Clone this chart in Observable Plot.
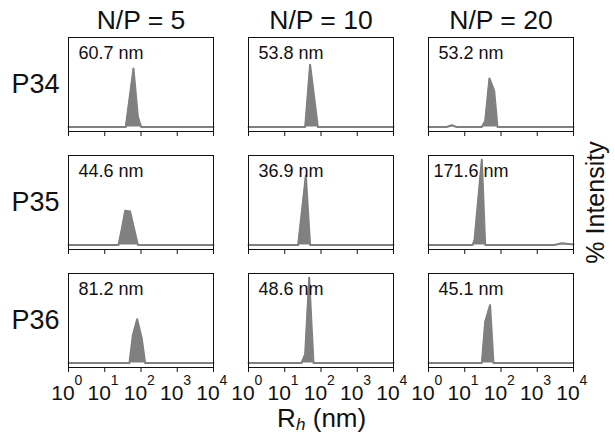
<!DOCTYPE html>
<html>
<head>
<meta charset="utf-8">
<script src="https://cdn.jsdelivr.net/npm/d3@7"></script>
<script src="https://cdn.jsdelivr.net/npm/@observablehq/plot@0.6"></script>
<style>
  html, body { margin: 0; padding: 0; background: white; }
</style>
</head>
<body>
<div id="chart"></div>
<script>
// Column facets (N/P ratio) and row facets (polymer)
const npRatios = [5, 10, 20];
const polymers = ["P34", "P35", "P36"];

// Hydrodynamic radius annotations, per [polymer][np]
const sizeLabels = [
  ["60.7 nm", "53.8 nm", "53.2 nm"],
  ["44.6 nm", "36.9 nm", "171.6 nm"],
  ["81.2 nm", "48.6 nm", "45.1 nm"]
];

// Size distributions: [R_h (nm), % intensity]
const p34_np5  = [[1, 0], [38, 0], [62, 19.6], [82, 3.4], [101, 0], [10000, 0]];
const p34_np10 = [[1, 0], [36.6, 0], [50, 20.9], [82, 0], [10000, 0]];
const p34_np20 = [[1, 0], [3.2, 0], [4.4, 0.6], [6, 0], [29.6, 0], [36.6, 2.0], [48, 16.3], [65, 12.1], [80, 0], [10000, 0]];
const p35_np5  = [[1, 0], [24, 0], [29.6, 5.4], [36.6, 11.5], [50, 11.2], [82, 0], [10000, 0]];
const p35_np10 = [[1, 0], [23.4, 0], [38.2, 23.3], [50, 0], [10000, 0]];
const p35_np20 = [[1, 0], [16.5, 0], [18.6, 1.7], [29.6, 28.6], [36.6, 0], [3000, 0], [4770, 0.6], [10000, 0.2]];
const p36_np5  = [[1, 0], [48, 0], [59.6, 9.3], [78.4, 14.7], [105, 8.2], [130, 0], [10000, 0]];
const p36_np10 = [[1, 0], [29, 0], [36.6, 3.0], [47.2, 28.6], [62, 0], [10000, 0]];
const p36_np20 = [[1, 0], [29.6, 0], [36.6, 13.8], [50, 19.4], [62, 0], [10000, 0]];

const series = [
  [p34_np5, p34_np10, p34_np20],
  [p35_np5, p35_np10, p35_np20],
  [p36_np5, p36_np10, p36_np20]
];

// x-axis ticks
const xTickValues = [1, 10, 100, 1000, 10000];
const xTickBase = "10";
const xTickExponents = ["0", "1", "2", "3", "4"];

// Axis titles
const yTitle = "% Intensity";
const xTitleMain = "R";
const xTitleSub = "h";
const xTitleUnit = " (nm)";

// Build tidy tables
const rows = [];
const labels = [];
polymers.forEach((p, i) => {
  npRatios.forEach((np, j) => {
    series[i][j].forEach(([r, v]) => rows.push({polymer: p, np, r, v}));
    labels.push({polymer: p, np, label: sizeLabels[i][j]});
  });
});
const ticks = xTickValues.map((v, k) => ({v, base: xTickBase, exp: xTickExponents[k]}));

const ink = "#111";
const gray = "#808080";

const chart = Plot.plot({
  width: 615,
  height: 434,
  marginTop: 37,
  marginBottom: 67,
  marginLeft: 67,
  marginRight: 42,
  style: {fontFamily: "'Liberation Sans', Arial, sans-serif", color: ink, background: "white"},
  x: {type: "log", domain: [1, 10000]},
  y: {domain: [-1.5, 30], axis: null},
  fx: {domain: npRatios, paddingInner: 0.197, paddingOuter: 0},
  fy: {domain: polymers, paddingInner: 0.205, paddingOuter: 0},
  marks: [
    Plot.areaY(rows, {x: "r", y: "v", fx: "np", fy: "polymer", fill: gray, curve: "linear"}),
    Plot.lineY(rows, {x: "r", y: "v", fx: "np", fy: "polymer", stroke: gray, strokeWidth: 2, strokeLinejoin: "round"}),
    Plot.frame({stroke: ink, strokeWidth: 1}),
    Plot.axisX({ticks: xTickValues, tickSize: 5, tickFormat: () => "", facetAnchor: null, stroke: ink, label: null}),
    Plot.text(ticks, {x: "v", text: "base", frameAnchor: "bottom", lineAnchor: "bottom", dy: 32, dx: -5.5, fontSize: 21, facetAnchor: "bottom", fill: ink}),
    Plot.text(ticks, {x: "v", text: "exp", frameAnchor: "bottom", lineAnchor: "bottom", textAnchor: "start", dy: 17, dx: 6, fontSize: 14, facetAnchor: "bottom", fill: ink}),
    Plot.text(labels, {fx: "np", fy: "polymer", text: "label", frameAnchor: "top-left", lineAnchor: "top", textAnchor: "middle", dx: 42.5, dy: 9, fontSize: 18, fill: ink}),
    Plot.axisFx({anchor: "top", tickFormat: d => `N/P = ${d}`, tickSize: 0, tickPadding: 9, fontSize: 26.5, label: null}),
    Plot.axisFy({anchor: "left", tickSize: 0, tickPadding: 9, fontSize: 27, label: null}),
    Plot.axisFy({anchor: "right", ticks: [], tickSize: 0, label: yTitle, labelAnchor: "center", labelOffset: 30, fontSize: 25}),
    Plot.text([xTitleMain], {fx: () => 10, fy: () => "P36", frameAnchor: "bottom", lineAnchor: "bottom", textAnchor: "start", dx: -44, dy: 59.5, fontSize: 26, fill: ink}),
    Plot.text([xTitleSub], {fx: () => 10, fy: () => "P36", frameAnchor: "bottom", lineAnchor: "bottom", textAnchor: "start", dx: -25, dy: 62, fontSize: 17, fontStyle: "italic", fill: ink}),
    Plot.text([xTitleUnit], {fx: () => 10, fy: () => "P36", frameAnchor: "bottom", lineAnchor: "bottom", textAnchor: "start", dx: -15.5, dy: 59.5, fontSize: 26, fill: ink})
  ]
});
document.getElementById("chart").append(chart);
</script>
</body>
</html>
